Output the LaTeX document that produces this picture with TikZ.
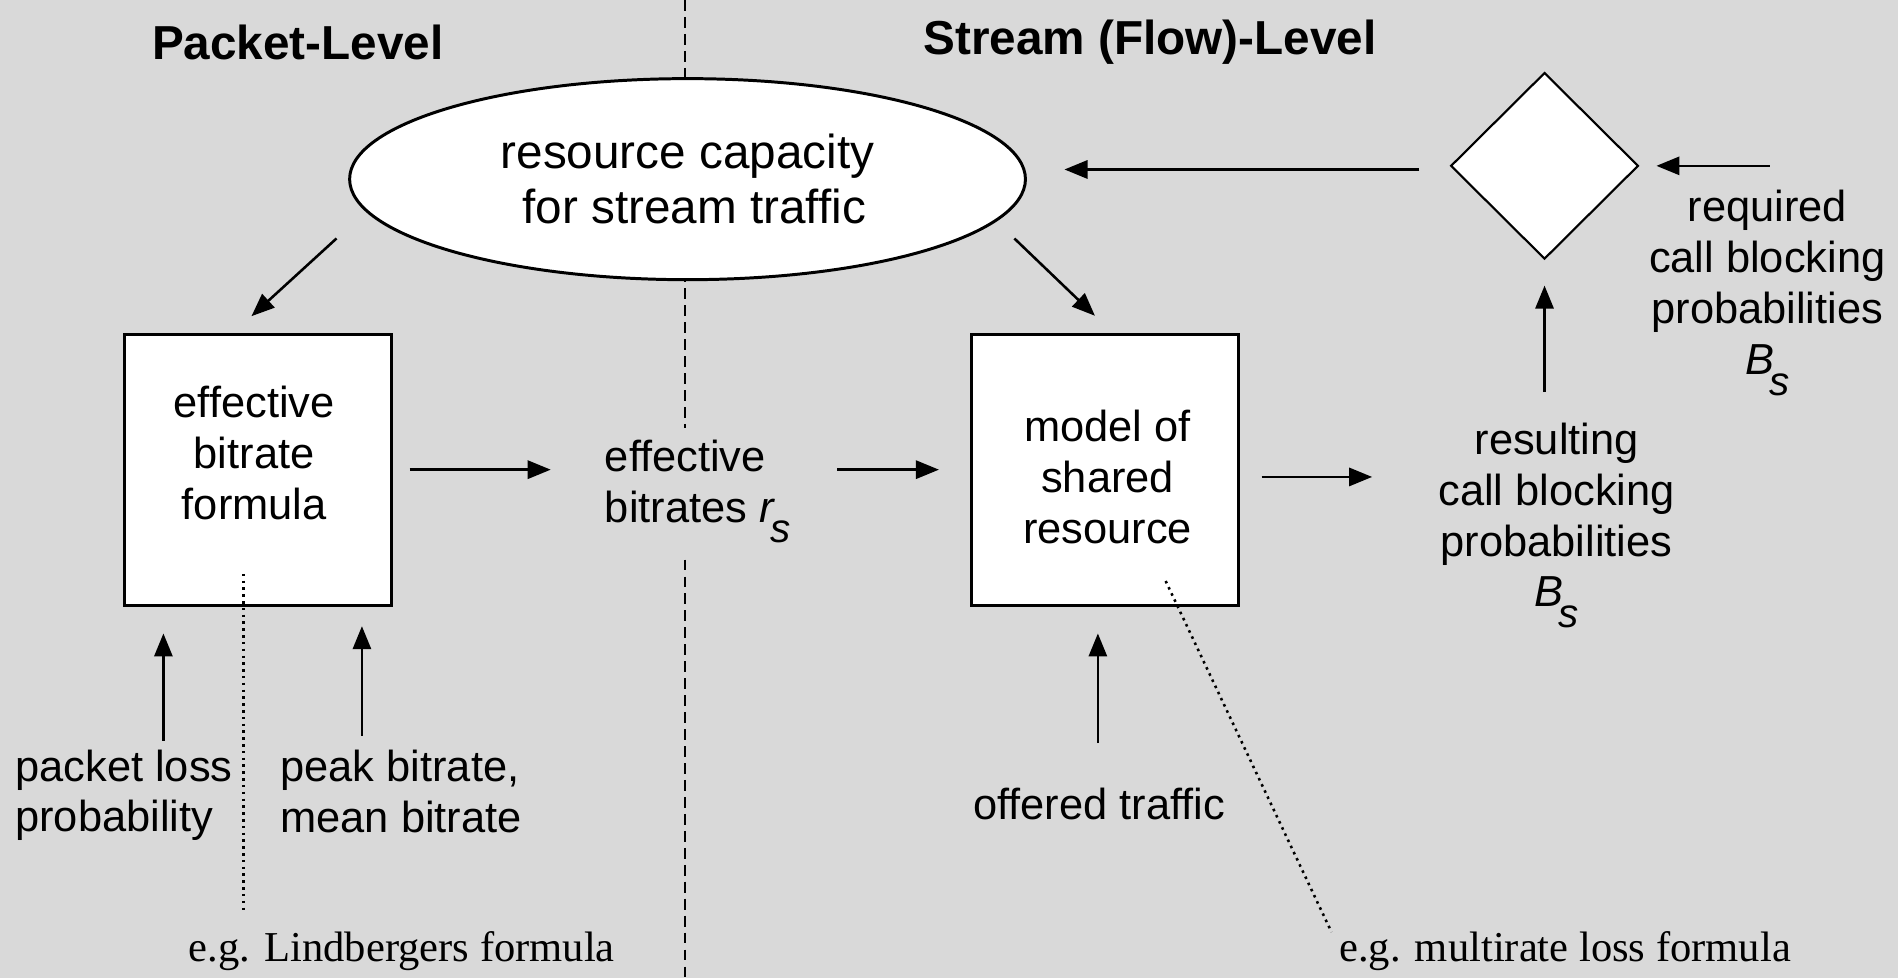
\documentclass[tikz,border=0pt]{standalone}
\usepackage{fontspec}
\setmainfont{Liberation Sans}
\newfontfamily\notefont{Liberation Serif}
\usetikzlibrary{shapes.geometric, arrows.meta, positioning}
\definecolor{slidegray}{RGB}{217,217,217}

\tikzset{
  box/.style={draw, line width=0.7pt, fill=white, minimum width=2.2cm, minimum height=2.24cm, inner sep=0pt},
  txt/.style={align=center, inner sep=0pt, font=\fontsize{10.2pt}{11.95pt}\selectfont},
  title/.style={inner sep=0pt, font=\fontsize{11.2pt}{12pt}\selectfont\bfseries},
  note/.style={inner sep=0pt, font=\fontsize{10pt}{12pt}\selectfont\notefont},
  arr/.style={-{Triangle[length=0.19cm,width=0.15cm]}, line width=0.6pt},
  hint/.style={dash pattern=on 0.6pt off 1pt, line width=0.6pt},
}
\newcommand{\subs}[1]{\textit{#1}\kern-0.12em\raisebox{-0.9ex}{\fontsize{9.5pt}{9.5pt}\selectfont\textit{s}}}

\begin{document}
\begin{tikzpicture}[x=0.01cm, y=-0.01cm]
  \fill[slidegray] (0,0) rectangle (1568,808);
  \useasboundingbox (0,0) rectangle (1568,808);
  % divider between the two levels
  \draw[dash pattern=on 0.09cm off 0.05cm, line width=0.5pt] (566,0) -- (566,808);
  \node[title] (pkt) at (246,35) {Packet-Level};
  \node[title] (str) at (950,35) {Stream (Flow)-Level};

  % shapes
  \node[ellipse, draw, line width=0.7pt, fill=white, minimum width=5.58cm, minimum height=1.66cm, inner sep=0pt, align=center, font=\fontsize{11.2pt}{12.8pt}\selectfont] (cap) at (568,148) {resource capacity\\ \ for stream traffic};
  \node[diamond, draw, line width=0.5pt, fill=white, minimum width=1.55cm, minimum height=1.54cm, inner sep=0pt] (chk) at (1276,137) {};
  \node[box] (ebf) at (213,388) {};
  \node[box] (msr) at (913,388) {};

  % texts
  \node[txt] (ebftext) at (210,374) {effective\\bitrate\\formula};
  \node[txt] (msrtext) at (915,394) {model of\\shared\\resource};
  \node[txt, align=left, anchor=west, fill=slidegray, inner ysep=0.1cm] (rates) at (499,406) {effective\\bitrates \subs{r}};
  \node[txt] (res) at (1286,434) {resulting\\call blocking\\probabilities\\\subs{B}};
  \node[txt] (req) at (1460,242) {required\\call blocking\\probabilities\\\subs{B}};
  \node[txt, align=left, anchor=west] (loss) at (12,657) {packet loss\\probability};
  \node[txt, align=left, anchor=west] (peak) at (231,654) {peak bitrate,\\mean bitrate};
  \node[txt] (off) at (908,664) {offered traffic};
  \node[note] (lind) at (332,786) {e.g. Lindbergers formula};
  \node[note] (mult) at (1293,786) {e.g. multirate loss formula};

  % free ends
  \coordinate (capL) at (278,197);
  \coordinate (capR) at (838,197);
  \coordinate (reqin) at (1462,137);
  \coordinate (resout) at (1276,324);
  \coordinate (pl) at (135,612);
  \coordinate (pk) at (299,608);
  \coordinate (ot) at (907,614);
  \coordinate (ln) at (201,474);
  \coordinate (mn) at (963,480);
  \coordinate (mf) at (1100,770);

  % arrows
  \draw[arr, shorten >=0.2cm] (capL) -- ([xshift=-0.2cm]ebf.north);
  \draw[arr, shorten >=0.2cm] (capR) -- ([xshift=0.06cm]msr.north);
  \draw[arr, shorten <=0.25cm, shorten >=0.31cm] ([yshift=-0.03cm]chk.west) -- ([yshift=-0.03cm]chk.west -| cap.east);
  \draw[arr, shorten >=0.14cm] (reqin) -- (chk.east);
  \draw[arr, shorten >=0.21cm] (resout) -- (chk.south);
  \draw[arr, shorten <=0.14cm, shorten >=0.44cm] (ebf.east) -- (ebf.east -| rates.west);
  \draw[arr, shorten <=0.38cm, shorten >=0.26cm] (rates.east |- msr.west) -- (msr.west);
  \draw[arr, shorten <=0.18cm, shorten >=0.54cm] ([yshift=-0.06cm]msr.east) -- ([yshift=-0.06cm]msr.east -| res.west);
  \draw[arr, shorten >=0.22cm] (pl) -- (pl |- ebf.south);
  \draw[arr, shorten >=0.16cm] (pk) -- (pk |- ebf.south);
  \draw[arr, shorten >=0.22cm] (ot) -- (ot |- msr.south);

  % hints
  \draw[hint, shorten >=0.14cm] (ln) -- (ln |- lind.north);
  \draw[hint] (mn) -- (mf);
\end{tikzpicture}
\end{document}
